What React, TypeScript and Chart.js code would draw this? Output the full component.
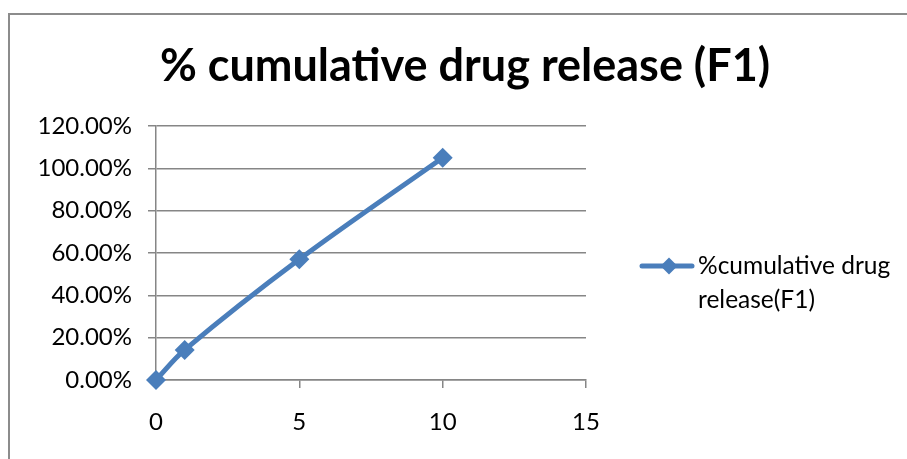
import React, { useEffect, useRef } from "react";
import { Chart, registerables } from "chart.js";

Chart.register(...registerables);

const chartTitle = "% cumulative drug release (F1)";
const seriesName = ["%cumulative drug", "release(F1)"];
const timePoints = [0, 1, 5, 10];
const releaseValues = [0, 0.142, 0.57, 1.05];
const xTickValues = [0, 5, 10, 15];
const yTickValues = [0, 0.2, 0.4, 0.6, 0.8, 1.0, 1.2];

const SERIES_COLOR = "#4A7EBB";
const GRID_COLOR = "#868686";
const FONT = "Lato, 'Open Sans', sans-serif";

const overlayPlugin = {
  id: "overlay",
  afterDraw(chart: any) {
    const ctx = chart.ctx as CanvasRenderingContext2D;
    ctx.save();
    // title
    ctx.fillStyle = "#000";
    ctx.font = `bold 45px ${FONT}`;
    ctx.textAlign = "center";
    ctx.textBaseline = "alphabetic";
    ctx.fillText(chartTitle, 465, 81);
    // legend
    const ly = 266;
    ctx.strokeStyle = SERIES_COLOR;
    ctx.lineWidth = 5;
    ctx.lineCap = "round";
    ctx.beginPath();
    ctx.moveTo(642, ly);
    ctx.lineTo(692, ly);
    ctx.stroke();
    ctx.fillStyle = SERIES_COLOR;
    ctx.beginPath();
    const cx = 669, r = 8.5;
    ctx.moveTo(cx, ly - r);
    ctx.lineTo(cx + r, ly);
    ctx.lineTo(cx, ly + r);
    ctx.lineTo(cx - r, ly);
    ctx.closePath();
    ctx.fill();
    ctx.fillStyle = "#000";
    ctx.font = `24.5px ${FONT}`;
    ctx.textAlign = "left";
    ctx.textBaseline = "middle";
    seriesName.forEach((t, i) => ctx.fillText(t, 698, ly + i * 34));
    ctx.restore();
  },
};

export default function App() {
  const ref = useRef<HTMLCanvasElement | null>(null);
  useEffect(() => {
    if (!ref.current) return;
    const chart = new Chart(ref.current, {
      type: "scatter",
      data: {
        datasets: [
          {
            label: seriesName.join(" "),
            data: timePoints.map((x, i) => ({ x, y: releaseValues[i] })),
            showLine: true,
            clip: false,
            borderColor: SERIES_COLOR,
            backgroundColor: SERIES_COLOR,
            borderWidth: 5,
            tension: 0.35,
            pointStyle: "rectRot",
            pointRadius: 10,
            pointHoverRadius: 10,
            pointBorderWidth: 0,
          } as any,
        ],
      },
      options: {
        animation: false,
        responsive: false,
        devicePixelRatio: 1,
        layout: { padding: { left: 0, top: 126, right: 907 - 586, bottom: 0 } },
        plugins: {
          legend: { display: false },
          title: { display: false },
          tooltip: { enabled: false },
        },
        scales: {
          x: {
            type: "linear",
            min: 0,
            max: 15,
            afterBuildTicks: (s: any) => {
              s.ticks = xTickValues.map((v) => ({ value: v }));
            },
            afterFit: (s: any) => {
              s.height = 79;
            },
            grid: {
              drawOnChartArea: false,
              drawTicks: true,
              tickLength: 8,
              lineWidth: 1.5,
              color: (c: any) => (c.index === 0 ? "rgba(0,0,0,0)" : GRID_COLOR),
            },
            border: { color: GRID_COLOR, width: 1.5 },
            ticks: {
              color: "#000",
              font: { family: FONT, size: 24 },
              padding: 20,
              maxRotation: 0,
            },
          },
          y: {
            min: 0,
            max: 1.2,
            afterBuildTicks: (s: any) => {
              s.ticks = yTickValues.map((v) => ({ value: v }));
            },
            afterFit: (s: any) => {
              s.width = 156;
            },
            grid: {
              drawTicks: true,
              tickLength: 8,
              lineWidth: 1.5,
              color: GRID_COLOR,
            },
            border: { color: GRID_COLOR, width: 1.5 },
            ticks: {
              color: "#000",
              font: { family: FONT, size: 24 },
              padding: 16,
              callback: (v: any) => (Number(v) * 100).toFixed(2) + "%",
            },
          },
        },
      },
      plugins: [overlayPlugin],
    });
    return () => chart.destroy();
  }, []);

  return (
    <div
      style={{
        position: "fixed",
        left: 0,
        top: 0,
        width: 907,
        height: 459,
        overflow: "hidden",
        background: "#fff",
      }}
    >
      <div
        style={{
          position: "absolute",
          left: 8,
          top: 13,
          width: 1000,
          height: 600,
          border: "2px solid #8c8c8c",
        }}
      />
      <canvas
        ref={ref}
        width={907}
        height={459}
        style={{ position: "absolute", left: 0, top: 0, display: "block" }}
      />
    </div>
  );
}
